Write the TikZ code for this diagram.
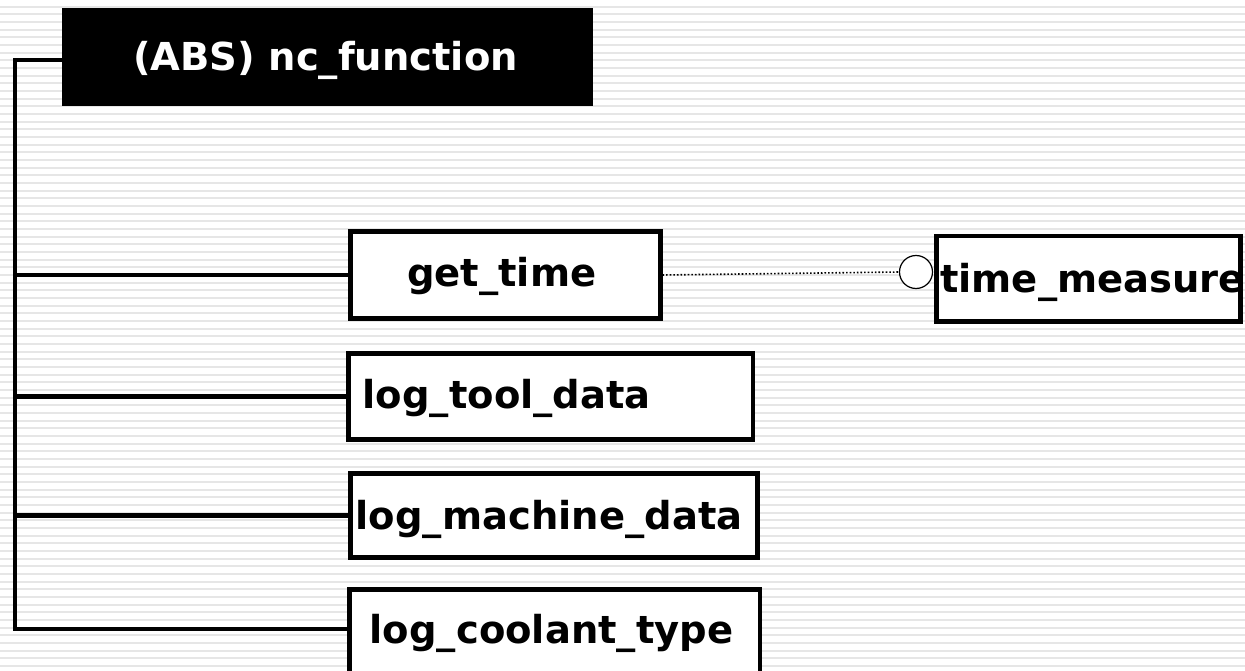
\documentclass[tikz,border=0pt]{standalone}
\usepackage{fontspec}
\setmainfont{DejaVu Sans}
\definecolor{stripegray}{RGB}{230,230,230}
\begin{document}
\begin{tikzpicture}[x=1pt,y=-1pt,
  stripe/.style={draw=stripegray, line width=2pt},
  box/.style={draw=black, line width=4.5pt, fill=white, inner sep=0pt, anchor=north west},
  headbox/.style={fill=black, inner sep=0pt, anchor=north west},
  lbl/.style={anchor=base west, inner sep=0pt, font=\fontsize{38.5}{40}\selectfont\bfseries},
  tree/.style={draw=black, line width=4.5pt, line join=miter},
  lollipop/.style={draw=black, line width=1.2pt, fill=white, circle, inner sep=0pt, minimum size=33pt},
  uses/.style={draw=black, dotted, line width=1.6pt}]
\useasboundingbox (0,0) rectangle (1245,671);
\clip (0,0) rectangle (1245,671);

% striped background
\fill[white] (0,0) rectangle (1245,671);
\foreach \k in {0,...,87}{
  \pgfmathsetmacro{\yy}{6.7+7.667*\k}
  \draw[stripe] (0,\yy) -- (1245,\yy);
}

% abstract root type
\node[headbox, minimum width=531pt, minimum height=98pt] (nc) at (62,8) {};
\node[lbl, text=white] (nctext) at (133,71) {(ABS) nc\_function};

% member boxes
\node[box, minimum width=310pt, minimum height=86.5pt] (gettime) at (348,229.5) {};
\node[lbl] (gettimetext) at (407,287) {get\_time};

\node[box, minimum width=404.5pt, minimum height=86pt] (tool) at (346,351) {};
\node[lbl] (tooltext) at (362.5,408) {log\_tool\_data};

\node[box, minimum width=407pt, minimum height=84pt] (machine) at (348,471) {};
\node[lbl] (machinetext) at (355.5,529) {log\_machine\_data};

\node[box, minimum width=410.5pt, minimum height=130pt] (coolant) at (347,587) {};
\node[lbl] (coolanttext) at (369.5,643) {log\_coolant\_type};

\node[box, minimum width=304pt, minimum height=85pt] (measure) at (934,234) {};
\node[lbl] (measuretext) at (940,292) {time\_measure};

% tree connectors
\coordinate (trunktop) at (15,60);
\coordinate (trunkbot) at (15,629);
\draw[tree] (nc.west |- trunktop) -- (trunktop) -- (trunkbot) -- (coolant.west |- trunkbot);
\draw[tree] (trunktop |- gettime.west) -- (gettime.west);
\draw[tree] (trunktop |- tool.west) -- (tool.west);
\draw[tree] (trunktop |- machine.west) -- (machine.west);

% reference to time_measure
\node[lollipop] (ball) at (916,272) {};
\draw[uses] (gettime.east) -- (ball.west);
\end{tikzpicture}
\end{document}
